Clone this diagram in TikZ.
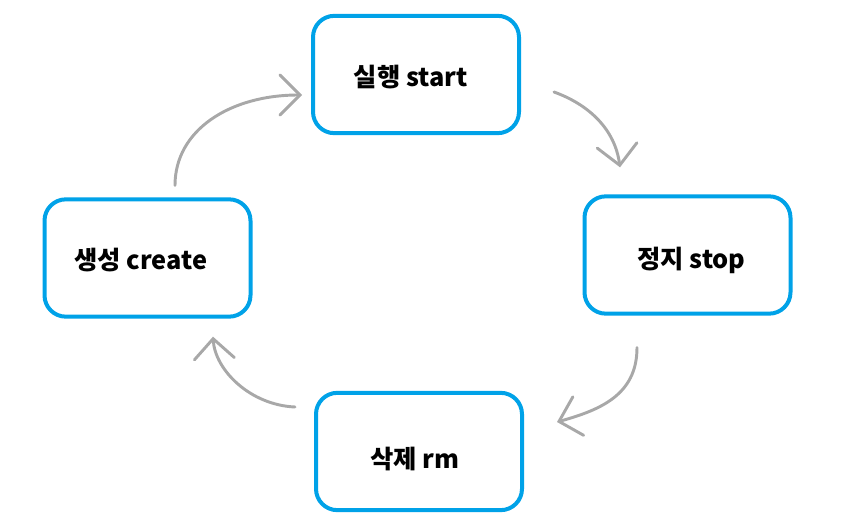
\documentclass[tikz,border=0pt]{standalone}
\usepackage{fontspec}
\setmainfont{Noto Sans CJK KR}
\usetikzlibrary{arrows.meta,calc}
\definecolor{boxblue}{RGB}{0,162,232}
\definecolor{pengray}{RGB}{168,168,168}

\begin{document}
\begin{tikzpicture}[x=0.75pt,y=0.75pt,yscale=-1,xscale=1,
  state/.style={draw=boxblue,line width=3pt,rounded corners=16pt,fill=white,
    minimum width=154.5pt,minimum height=88pt,inner sep=0pt,
    font=\fontsize{19}{21}\selectfont\bfseries},
  flow/.style={draw=pengray,line width=2.2pt,line cap=round,
    -{Straight Barb[length=15pt,width=30pt,line cap=round]}}]
\useasboundingbox (0,0) rectangle (858,528);

%Boxes
\node[state] (start)  at (416,74.5)  {\hspace*{-8pt}\raisebox{-9.25pt}[0pt][0pt]{실행 start}};
\node[state] (stop)   at (687.5,255) {\hspace*{6pt}\raisebox{-10pt}[0pt][0pt]{정지 stop}};
\node[state] (create) at (147.5,258) {\hspace*{-10pt}\raisebox{-8.5pt}[0pt][0pt]{생성 create}};
\node[state] (rm)     at (419,451.5) {\hspace*{-6pt}\raisebox{-13pt}[0pt][0pt]{삭제 rm}};

%Arrow ends
\coordinate (createOut) at ($(create.north)+(27.5,-12)$);
\coordinate (startIn)   at ($(start.west)+(-9,20.5)$);
\coordinate (startOut)  at ($(start.east)+(33,17.5)$);
\coordinate (stopIn)    at ($(stop.north)+(-67.5,-27)$);
\coordinate (stopOut)   at ($(stop.south)+(-50.5,32)$);
\coordinate (rmIn)      at ($(rm.east)+(33,-29.5)$);
\coordinate (rmOut)     at ($(rm.west)+(-19,-44.5)$);
\coordinate (createIn)  at ($(create.south)+(65.5,18)$);

%Curved arrows
\draw[flow] (createOut) .. controls (175,130) and (230,95) .. (startIn);
\draw[flow] (startOut) .. controls (590,105) and (615,130) .. (stopIn);
\draw[flow] (stopOut) .. controls (637,395) and (600,410) .. (rmIn);
\draw[flow] (rmOut) .. controls (250,405) and (215,370) .. (createIn);

\end{tikzpicture}
\end{document}
